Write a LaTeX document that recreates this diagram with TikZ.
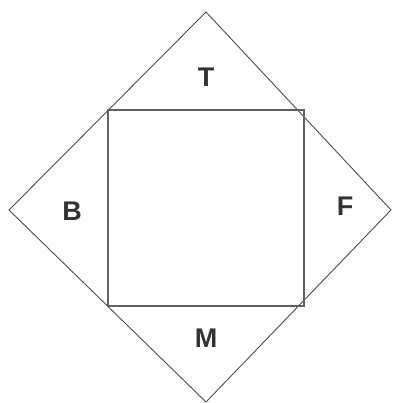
\documentclass[tikz,border=0pt]{standalone}
\usepackage{fontspec}
\setmainfont{Liberation Sans}
\usepackage{tikz}
\usetikzlibrary{calc}

\begin{document}
\begin{tikzpicture}[x=1pt, y=1pt]

        \useasboundingbox (0,0) rectangle (392,403);

        % Corners of the outer diamond
        \coordinate (top) at (206,391);
        \coordinate (right) at (391,193);
        \coordinate (bottom) at (206,1);
        \coordinate (left) at (9,193);

        % Corners of the inner square
        \coordinate (sqA) at (108,293);
        \coordinate (sqB) at (304,97);

        % Draw diamond
        \draw[line width=0.9pt, color=black!70] (top) -- (right) -- (bottom) -- (left) -- cycle;

        % Draw square
        \draw[line width=1.4pt, color=black!62] (sqA) rectangle (sqB);

        % Label the four flaps
        \tikzset{flap/.style={font=\bfseries\fontsize{27}{27}\selectfont, text=black!80}}
        \node[flap] (T) at (206,326) {T};
        \node[flap] (B) at (72,192) {B};
        \node[flap] (F) at (345,197) {F};
        \node[flap] (M) at (206,65) {M};

      \end{tikzpicture}
\end{document}
